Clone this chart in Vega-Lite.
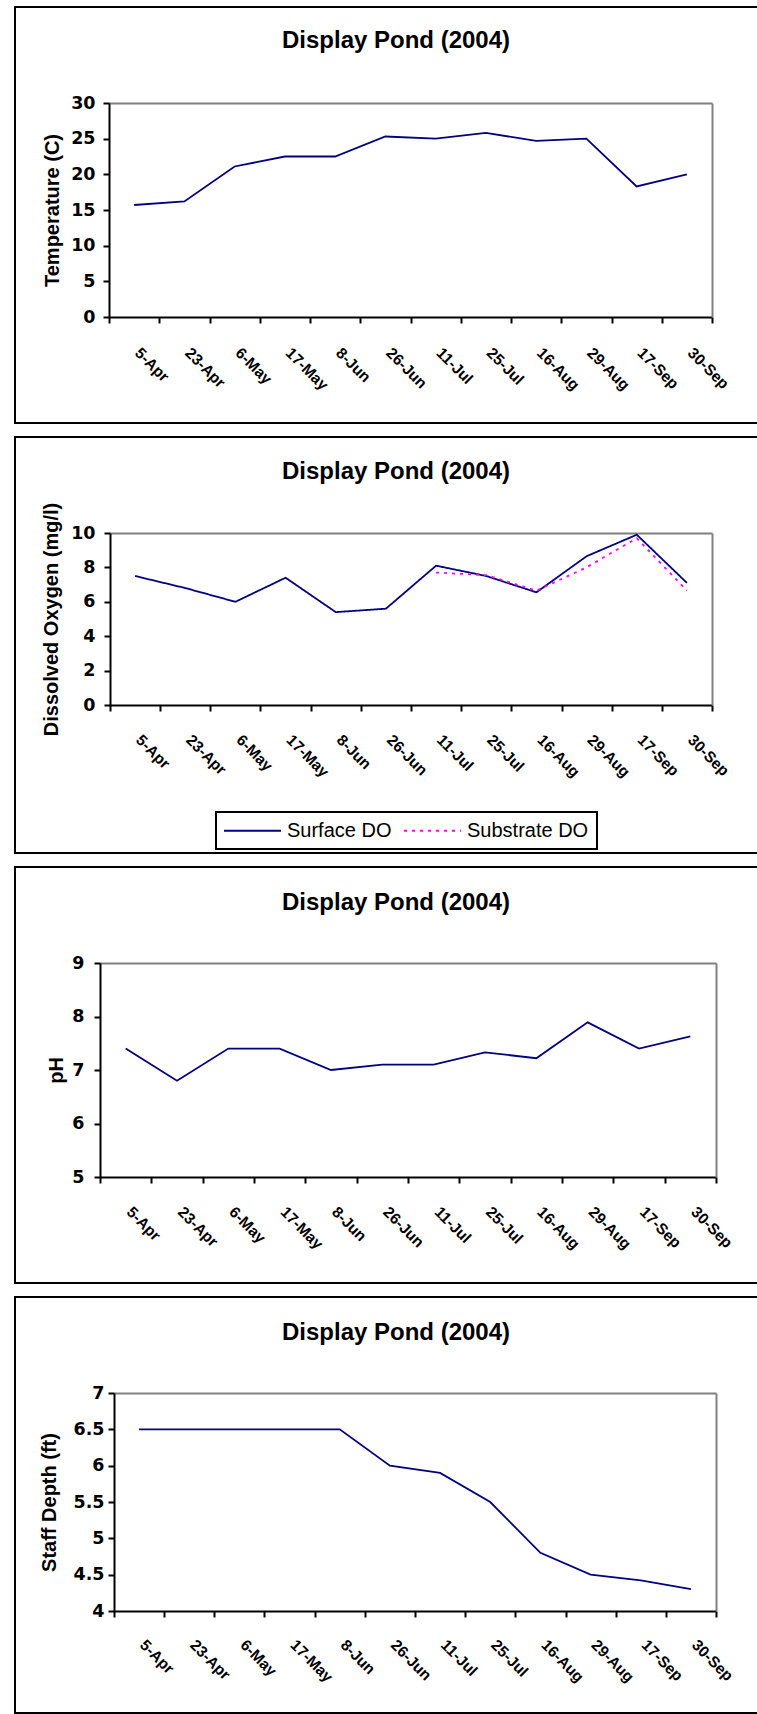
{
  "$schema": "https://vega.github.io/schema/vega-lite/v6.json",
  "padding": {"left": 7, "top": 6, "right": -14, "bottom": 0},
  "spacing": 14,
  "bounds": "flush",
  "datasets": {
    "temp": [
      {"date": "5-Apr", "value": 15.7}, {"date": "23-Apr", "value": 16.2}, {"date": "6-May", "value": 21.1},
      {"date": "17-May", "value": 22.5}, {"date": "8-Jun", "value": 22.5}, {"date": "26-Jun", "value": 25.3},
      {"date": "11-Jul", "value": 25.0}, {"date": "25-Jul", "value": 25.8}, {"date": "16-Aug", "value": 24.7},
      {"date": "29-Aug", "value": 25.0}, {"date": "17-Sep", "value": 18.3}, {"date": "30-Sep", "value": 20.0}
    ],
    "do": [
      {"date": "5-Apr", "series": "Surface DO", "value": 7.5}, {"date": "23-Apr", "series": "Surface DO", "value": 6.8},
      {"date": "6-May", "series": "Surface DO", "value": 6.0}, {"date": "17-May", "series": "Surface DO", "value": 7.4},
      {"date": "8-Jun", "series": "Surface DO", "value": 5.4}, {"date": "26-Jun", "series": "Surface DO", "value": 5.6},
      {"date": "11-Jul", "series": "Surface DO", "value": 8.1}, {"date": "25-Jul", "series": "Surface DO", "value": 7.5},
      {"date": "16-Aug", "series": "Surface DO", "value": 6.55}, {"date": "29-Aug", "series": "Surface DO", "value": 8.65},
      {"date": "17-Sep", "series": "Surface DO", "value": 9.9}, {"date": "30-Sep", "series": "Surface DO", "value": 7.1},
      {"date": "11-Jul", "series": "Substrate DO", "value": 7.7}, {"date": "25-Jul", "series": "Substrate DO", "value": 7.55},
      {"date": "16-Aug", "series": "Substrate DO", "value": 6.65}, {"date": "29-Aug", "series": "Substrate DO", "value": 8.0},
      {"date": "17-Sep", "series": "Substrate DO", "value": 9.7}, {"date": "30-Sep", "series": "Substrate DO", "value": 6.65}
    ],
    "ph": [
      {"date": "5-Apr", "value": 7.4}, {"date": "23-Apr", "value": 6.8}, {"date": "6-May", "value": 7.4},
      {"date": "17-May", "value": 7.4}, {"date": "8-Jun", "value": 7.0}, {"date": "26-Jun", "value": 7.1},
      {"date": "11-Jul", "value": 7.1}, {"date": "25-Jul", "value": 7.33}, {"date": "16-Aug", "value": 7.22},
      {"date": "29-Aug", "value": 7.89}, {"date": "17-Sep", "value": 7.4}, {"date": "30-Sep", "value": 7.63}
    ],
    "depth": [
      {"date": "5-Apr", "value": 6.5}, {"date": "23-Apr", "value": 6.5}, {"date": "6-May", "value": 6.5},
      {"date": "17-May", "value": 6.5}, {"date": "8-Jun", "value": 6.5}, {"date": "26-Jun", "value": 6.0},
      {"date": "11-Jul", "value": 5.9}, {"date": "25-Jul", "value": 5.5}, {"date": "16-Aug", "value": 4.8},
      {"date": "29-Aug", "value": 4.5}, {"date": "17-Sep", "value": 4.42}, {"date": "30-Sep", "value": 4.3}
    ]
  },
  "vconcat": [
    {
      "width": 762, "height": 416,
      "title": {"text": "Display Pond (2004)", "offset": -46},
      "data": {"name": "temp"},
      "layer": [
        {
          "mark": {"type": "line", "color": "#000080", "strokeWidth": 1.8},
          "encoding": {
            "x": {"field": "date", "type": "ordinal", "bandPosition": 0.5,
              "scale": {"type": "band", "domain": ["5-Apr","23-Apr","6-May","17-May","8-Jun","26-Jun","11-Jul","25-Jul","16-Aug","29-Aug","17-Sep","30-Sep"], "range": [94, 697], "paddingInner": 0, "paddingOuter": 0},
              "axis": {"orient": "bottom", "offset": -106, "title": null, "tickBand": "extent", "labelAngle": 45, "labelAlign": "left", "labelBaseline": "middle", "labelPadding": 27, "labelOffset": 3, "labelOverlap": false}},
            "y": {"field": "value", "type": "quantitative",
              "scale": {"domain": [0, 30], "range": [310, 96], "nice": false, "zero": false},
              "axis": {"orient": "left", "offset": -94, "values": [0, 5, 10, 15, 20, 25, 30], "title": "Temperature (C)", "titleX": -57, "labelPadding": 8}}
          }
        },
        {
          "mark": {"type": "line", "strokeOpacity": 0},
          "encoding": {
            "x": {"field": "date", "type": "ordinal",
              "scale": {"type": "band", "domain": ["5-Apr","23-Apr","6-May","17-May","8-Jun","26-Jun","11-Jul","25-Jul","16-Aug","29-Aug","17-Sep","30-Sep"], "range": [94, 697], "paddingInner": 0, "paddingOuter": 0},
              "axis": {"orient": "top", "offset": -96, "title": null, "ticks": false, "labels": false, "domainColor": "#808080"}},
            "y": {"field": "value", "type": "quantitative",
              "scale": {"domain": [0, 30], "range": [310, 96], "nice": false, "zero": false},
              "axis": {"orient": "right", "offset": -65, "title": null, "ticks": false, "labels": false, "domainColor": "#808080"}}
          }
        }
      ],
      "resolve": {"axis": {"x": "independent", "y": "independent"}}
    },
    {
      "width": 762, "height": 416,
      "title": {"text": "Display Pond (2004)", "offset": -47},
      "data": {"name": "do"},
      "layer": [
        {
          "mark": {"type": "line", "strokeWidth": 1.8},
          "encoding": {
            "x": {"field": "date", "type": "ordinal", "bandPosition": 0.5,
              "scale": {"type": "band", "domain": ["5-Apr","23-Apr","6-May","17-May","8-Jun","26-Jun","11-Jul","25-Jul","16-Aug","29-Aug","17-Sep","30-Sep"], "range": [95, 697], "paddingInner": 0, "paddingOuter": 0},
              "axis": {"orient": "bottom", "offset": -148, "title": null, "tickBand": "extent", "labelAngle": 45, "labelAlign": "left", "labelBaseline": "middle", "labelPadding": 26, "labelOffset": 3, "labelOverlap": false}},
            "y": {"field": "value", "type": "quantitative",
              "scale": {"domain": [0, 10], "range": [268, 96], "nice": false, "zero": false},
              "axis": {"orient": "left", "offset": -95, "values": [0, 2, 4, 6, 8, 10], "title": "Dissolved Oxygen (mg/l)", "titleX": -59, "labelPadding": 9}},
            "color": {"field": "series", "type": "nominal",
              "scale": {"domain": ["Surface DO", "Substrate DO"], "range": ["#000080", "#FF00FF"]},
              "legend": {"orient": "none", "legendX": 201, "legendY": 805, "direction": "horizontal", "title": null, "symbolType": "M-3,0H3", "symbolSize": 361, "symbolStrokeWidth": 2, "symbolOffset": 18, "labelOffset": 24, "columnPadding": 8, "padding": 8, "strokeColor": "black", "labelFont": "Liberation Sans", "labelFontSize": 20, "labelColor": "black"}},
            "strokeDash": {"field": "series", "type": "nominal",
              "scale": {"domain": ["Surface DO", "Substrate DO"], "range": [[1, 0], [3, 5]]},
              "legend": {"orient": "none", "legendX": 201, "legendY": 805, "direction": "horizontal", "title": null, "symbolType": "M-3,0H3", "symbolSize": 361, "symbolStrokeWidth": 2, "symbolOffset": 18, "labelOffset": 24, "columnPadding": 8, "padding": 8, "strokeColor": "black", "labelFont": "Liberation Sans", "labelFontSize": 20, "labelColor": "black"}}
          }
        },
        {
          "mark": {"type": "line", "strokeOpacity": 0},
          "encoding": {
            "x": {"field": "date", "type": "ordinal",
              "scale": {"type": "band", "domain": ["5-Apr","23-Apr","6-May","17-May","8-Jun","26-Jun","11-Jul","25-Jul","16-Aug","29-Aug","17-Sep","30-Sep"], "range": [95, 697], "paddingInner": 0, "paddingOuter": 0},
              "axis": {"orient": "top", "offset": -96, "title": null, "ticks": false, "labels": false, "domainColor": "#808080"}},
            "y": {"field": "value", "type": "quantitative",
              "scale": {"domain": [0, 10], "range": [268, 96], "nice": false, "zero": false},
              "axis": {"orient": "right", "offset": -65, "title": null, "ticks": false, "labels": false, "domainColor": "#808080"}}
          }
        }
      ],
      "resolve": {"axis": {"x": "independent", "y": "independent"}}
    },
    {
      "width": 762, "height": 416,
      "title": {"text": "Display Pond (2004)", "offset": -48},
      "data": {"name": "ph"},
      "layer": [
        {
          "mark": {"type": "line", "color": "#000080", "strokeWidth": 1.8},
          "encoding": {
            "x": {"field": "date", "type": "ordinal", "bandPosition": 0.5,
              "scale": {"type": "band", "domain": ["5-Apr","23-Apr","6-May","17-May","8-Jun","26-Jun","11-Jul","25-Jul","16-Aug","29-Aug","17-Sep","30-Sep"], "range": [85, 701], "paddingInner": 0, "paddingOuter": 0},
              "axis": {"orient": "bottom", "offset": -106, "title": null, "tickBand": "extent", "labelAngle": 45, "labelAlign": "left", "labelBaseline": "middle", "labelPadding": 26, "labelOffset": 3, "labelOverlap": false}},
            "y": {"field": "value", "type": "quantitative",
              "scale": {"domain": [5, 9], "range": [310, 96], "nice": false, "zero": false},
              "axis": {"orient": "left", "offset": -85, "values": [5, 6, 7, 8, 9], "title": "pH", "titleX": -44, "labelPadding": 10}}
          }
        },
        {
          "mark": {"type": "line", "strokeOpacity": 0},
          "encoding": {
            "x": {"field": "date", "type": "ordinal",
              "scale": {"type": "band", "domain": ["5-Apr","23-Apr","6-May","17-May","8-Jun","26-Jun","11-Jul","25-Jul","16-Aug","29-Aug","17-Sep","30-Sep"], "range": [85, 701], "paddingInner": 0, "paddingOuter": 0},
              "axis": {"orient": "top", "offset": -96, "title": null, "ticks": false, "labels": false, "domainColor": "#808080"}},
            "y": {"field": "value", "type": "quantitative",
              "scale": {"domain": [5, 9], "range": [310, 96], "nice": false, "zero": false},
              "axis": {"orient": "right", "offset": -61, "title": null, "ticks": false, "labels": false, "domainColor": "#808080"}}
          }
        }
      ],
      "resolve": {"axis": {"x": "independent", "y": "independent"}}
    },
    {
      "width": 762, "height": 416,
      "title": {"text": "Display Pond (2004)", "offset": -48},
      "data": {"name": "depth"},
      "layer": [
        {
          "mark": {"type": "line", "color": "#000080", "strokeWidth": 1.8},
          "encoding": {
            "x": {"field": "date", "type": "ordinal", "bandPosition": 0.5,
              "scale": {"type": "band", "domain": ["5-Apr","23-Apr","6-May","17-May","8-Jun","26-Jun","11-Jul","25-Jul","16-Aug","29-Aug","17-Sep","30-Sep"], "range": [99, 701], "paddingInner": 0, "paddingOuter": 0},
              "axis": {"orient": "bottom", "offset": -102, "title": null, "tickBand": "extent", "labelAngle": 45, "labelAlign": "left", "labelBaseline": "middle", "labelPadding": 25, "labelOffset": 3, "labelOverlap": false}},
            "y": {"field": "value", "type": "quantitative",
              "scale": {"domain": [4, 7], "range": [314, 96], "nice": false, "zero": false},
              "axis": {"orient": "left", "offset": -99, "values": [4, 4.5, 5, 5.5, 6, 6.5, 7], "title": "Staff Depth (ft)", "titleX": -65, "labelPadding": 4}}
          }
        },
        {
          "mark": {"type": "line", "strokeOpacity": 0},
          "encoding": {
            "x": {"field": "date", "type": "ordinal",
              "scale": {"type": "band", "domain": ["5-Apr","23-Apr","6-May","17-May","8-Jun","26-Jun","11-Jul","25-Jul","16-Aug","29-Aug","17-Sep","30-Sep"], "range": [99, 701], "paddingInner": 0, "paddingOuter": 0},
              "axis": {"orient": "top", "offset": -96, "title": null, "ticks": false, "labels": false, "domainColor": "#808080"}},
            "y": {"field": "value", "type": "quantitative",
              "scale": {"domain": [4, 7], "range": [314, 96], "nice": false, "zero": false},
              "axis": {"orient": "right", "offset": -61, "title": null, "ticks": false, "labels": false, "domainColor": "#808080"}}
          }
        }
      ],
      "resolve": {"axis": {"x": "independent", "y": "independent"}}
    }
  ],
  "config": {
    "font": "Liberation Sans",
    "view": {"stroke": "black", "strokeWidth": 2, "fill": "white"},
    "title": {"font": "Liberation Sans", "fontSize": 24, "fontWeight": "bold", "color": "black", "baseline": "middle", "anchor": "middle"},
    "axis": {
      "grid": false,
      "domainColor": "black", "domainWidth": 2,
      "tickColor": "black", "tickWidth": 2, "tickSize": 6,
      "labelColor": "black", "labelFont": "Liberation Sans", "labelFontWeight": "bold", "labelFontSize": 15.5,
      "titleColor": "black", "titleFont": "Liberation Sans", "titleFontWeight": "bold", "titleFontSize": 20
    },
    "axisLeft": {"labelFont": "DejaVu Sans", "labelFontSize": 17.5, "titleBaseline": "middle", "format": "~r"},
    "legend": {"strokeWidth": 2}
  }
}
